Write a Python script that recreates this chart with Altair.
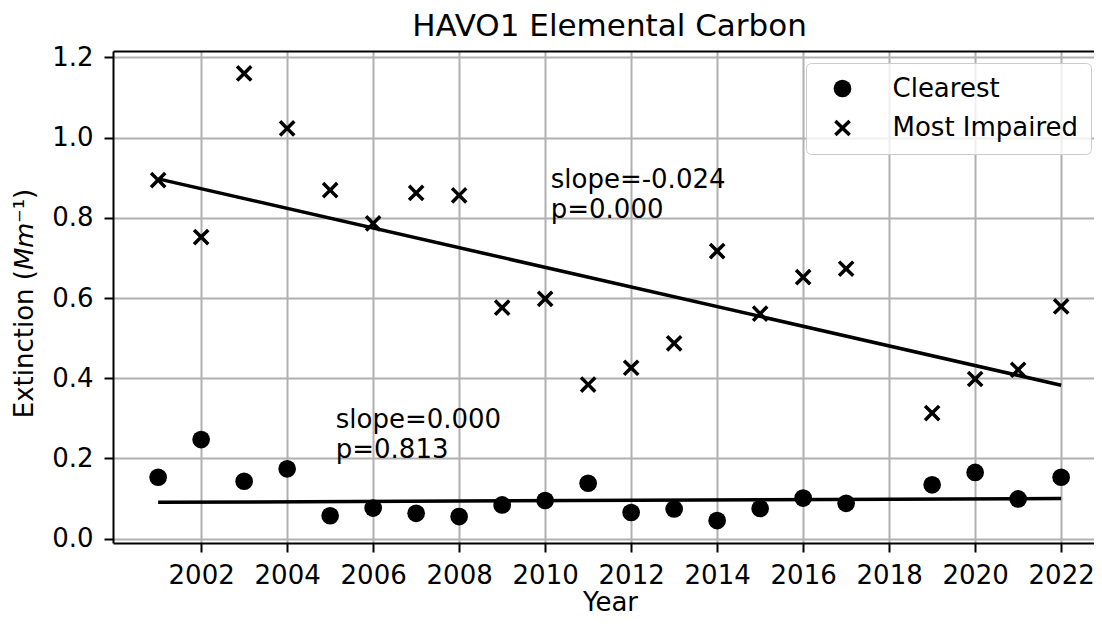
import altair as alt
import pandas as pd
import numpy as np

# ---- data ----
years = [2001, 2002, 2003, 2004, 2005, 2006, 2007, 2008, 2009, 2010, 2011,
         2012, 2013, 2014, 2015, 2016, 2017, 2019, 2020, 2021, 2022]
clearest = [0.153, 0.247, 0.143, 0.174, 0.057, 0.076, 0.063, 0.055, 0.084, 0.095, 0.138,
            0.065, 0.074, 0.045, 0.075, 0.101, 0.088, 0.134, 0.165, 0.099, 0.153]
impaired = [0.894, 0.752, 1.160, 1.023, 0.869, 0.786, 0.862, 0.856, 0.576, 0.598, 0.384,
            0.426, 0.487, 0.717, 0.561, 0.652, 0.673, 0.313, 0.398, 0.421, 0.579]
series_names = ["Clearest", "Most Impaired"]

ann_x = [2005.13, 2010.13]
ann_y = [0.2, 0.8]
ann_text = ["slope=0.000\np=0.813", "slope=-0.024\np=0.000"]

x_ticks = list(range(2002, 2023, 2))
y_ticks = [0.0, 0.2, 0.4, 0.6, 0.8, 1.0, 1.2]

FONT = "DejaVu Sans"
FS = 26
X_PATH = ("M-0.943,-0.663L-0.663,-0.943L0,-0.28L0.663,-0.943L0.943,-0.663L0.28,0"
          "L0.943,0.663L0.663,0.943L0,0.28L-0.663,0.943L-0.943,0.663L-0.28,0Z")


def theil_sen(x, y):
    x = np.asarray(x, float)
    y = np.asarray(y, float)
    slopes = []
    for i in range(len(x)):
        for j in range(i + 1, len(x)):
            slopes.append((y[j] - y[i]) / (x[j] - x[i]))
    m = np.median(slopes)
    b = np.median(y) - m * np.median(x)
    return m, b


pts = pd.DataFrame({
    "Year": years * 2,
    "Value": clearest + impaired,
    "Series": [series_names[0]] * len(years) + [series_names[1]] * len(years),
})

trend_rows = []
for name, vals in zip(series_names, [clearest, impaired]):
    m, b = theil_sen(years, vals)
    for yr in (years[0], years[-1]):
        trend_rows.append({"Year": yr, "Value": b + m * yr, "Series": name})
trend = pd.DataFrame(trend_rows)

ann = pd.DataFrame({"Year": ann_x, "Value": ann_y, "Label": ann_text})

x_scale = alt.Scale(domain=[1999.95, 2022.764], nice=False, zero=False)
y_scale = alt.Scale(domain=[-0.011, 1.216], nice=False, zero=False)

y_enc = alt.Y("Value:Q", scale=y_scale, title="Extinction (𝘔𝘮⁻¹)",
              axis=alt.Axis(values=y_ticks, format=".1f", grid=True,
                            titleX=-81, titleY=252, titleAngle=-90,
                            titleBaseline="alphabetic", titleAlign="center",
                            labelPadding=11))

points = alt.Chart(pts).mark_point(
    filled=True, size=313, opacity=1, color="black", strokeWidth=0
).encode(
    x=alt.X("Year:Q", scale=x_scale, title="Year",
            axis=alt.Axis(values=x_ticks, format="d", grid=True, orient="bottom",
                          labelPadding=10, titleX=497, titleY=67,
                          titleBaseline="alphabetic", titleAlign="center")),
    y=y_enc,
    shape=alt.Shape("Series:N",
                    scale=alt.Scale(domain=series_names, range=["circle", X_PATH]),
                    legend=alt.Legend(title=None, orient="none", legendX=693, legendY=12,
                                      labelFont=FONT, labelFontSize=FS, labelColor="black",
                                      labelLimit=400,
                                      symbolSize=313, symbolFillColor="black",
                                      symbolStrokeWidth=0, symbolOffset=11,
                                      labelOffset=37, padding=12.5, rowPadding=13.5,
                                      fillColor="rgba(255,255,255,0.8)",
                                      strokeColor="#cccccc", cornerRadius=5)),
)

lines = alt.Chart(trend).mark_line(color="black", strokeWidth=3.5).encode(
    x=alt.X("Year:Q", scale=x_scale, title="HAVO1 Elemental Carbon",
            axis=alt.Axis(orient="top", labels=False, ticks=False, grid=False,
                          domain=True, titleX=496, titleY=-16,
                          titleBaseline="alphabetic", titleAlign="center",
                          titleFontSize=31)),
    y=y_enc,
    detail="Series:N",
)

texts = alt.Chart(ann).mark_text(
    align="left", baseline="alphabetic", fontSize=FS, font=FONT, color="black",
    lineBreak="\n", lineHeight=30, dy=-30
).encode(
    x=alt.X("Year:Q", scale=x_scale, axis=None),
    y=y_enc,
    text="Label:N",
)

chart = alt.layer(points, lines, texts).resolve_axis(x="independent").properties(
    width=981, height=492,
    autosize=alt.AutoSizeParams(type="none"),
    padding={"left": 105, "top": 43, "right": 0, "bottom": 73},
).configure_view(stroke=None).configure_axis(
    labelFont=FONT, labelFontSize=FS, labelColor="black",
    titleFont=FONT, titleFontSize=FS, titleFontWeight="normal", titleColor="black",
    domainColor="black", domainWidth=2, tickColor="black", tickWidth=2, tickSize=9,
    gridColor="#b0b0b0", gridWidth=2, gridOpacity=1,
)

chart.save("out.html", embed_options={"renderer": "svg", "actions": False})
